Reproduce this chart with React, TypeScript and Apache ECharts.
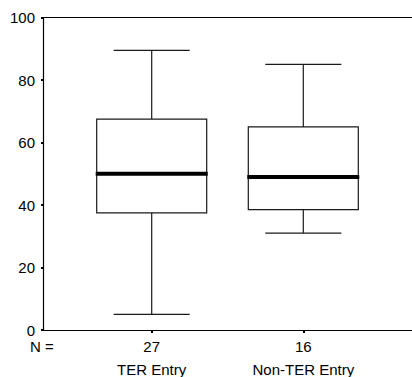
import React, { useEffect, useRef } from "react";
import * as echarts from "echarts";

const categories = ["TER Entry", "Non-TER Entry"];
const counts = ["27", "16"];
const positions = [1, 2];
const mins = [5, 31];
const q1s = [37.5, 38.5];
const medians = [50, 49];
const q3s = [67.5, 65];
const maxs = [89.5, 85];
const yTicks = [0, 20, 40, 60, 80, 100];

const FONT = "'Liberation Sans', Arial, sans-serif";

export default function App() {
  const ref = useRef<HTMLDivElement>(null);
  useEffect(() => {
    if (!ref.current) return;
    const chart = echarts.init(ref.current, null, { renderer: "svg" });
    const data = positions.map((p, i) => [p, mins[i], q1s[i], medians[i], q3s[i], maxs[i]]);
    const stroke = "#1a1a1a";
    chart.setOption({
      animation: false,
      textStyle: { fontFamily: FONT },
      grid: { left: 43, right: 0, top: 17.5, bottom: 47, containLabel: false },
      xAxis: [
        {
          type: "value",
          min: 0.283,
          max: 2.717,
          position: "bottom",
          splitLine: { show: false },
          axisLine: { show: true, lineStyle: { color: "#000", width: 1.2 } },
          axisTick: { show: true, customValues: positions, length: 3, lineStyle: { color: "#000", width: 2 } },
          axisLabel: {
            show: true,
            customValues: positions,
            margin: 5,
            formatter: (v: number) => {
              const i = positions.indexOf(Math.round(v));
              if (i < 0) return "";
              return `{n|${counts[i]}}\n{c|${categories[i]}}`;
            },
            rich: {
              n: { fontSize: 15, lineHeight: 23, color: "#000", fontFamily: FONT },
              c: { fontSize: 15, lineHeight: 23, color: "#000", fontFamily: FONT },
            },
          },
        },
        {
          type: "value",
          min: 0.283,
          max: 2.717,
          position: "top",
          splitLine: { show: false },
          axisLine: { show: true, lineStyle: { color: "#000", width: 1.2 } },
          axisTick: { show: false },
          axisLabel: { show: false },
        },
      ],
      yAxis: {
        type: "value",
        min: 0,
        max: 100,
        interval: 20,
        splitLine: { show: false },
        axisLine: { show: true, lineStyle: { color: "#000", width: 1.2 } },
        axisTick: { show: true, length: 2, lineStyle: { color: "#000", width: 2 } },
        axisLabel: {
          margin: 8,
          fontSize: 15,
          color: "#000",
          fontFamily: FONT,
          formatter: (v: number) => (yTicks.includes(v) ? String(v) : ""),
        },
      },
      graphic: [
        {
          type: "text",
          left: 30,
          top: 339,
          style: { text: "N =", fontSize: 15, fill: "#000", fontFamily: FONT },
        },
      ],
      series: [
        {
          type: "custom",
          xAxisIndex: 0,
          yAxisIndex: 0,
          data,
          renderItem: (params: any, api: any) => {
            const x = api.value(0);
            const pMin = api.coord([x, api.value(1)]);
            const pQ1 = api.coord([x, api.value(2)]);
            const pMed = api.coord([x, api.value(3)]);
            const pQ3 = api.coord([x, api.value(4)]);
            const pMax = api.coord([x, api.value(5)]);
            const cx = pMin[0];
            const half = 55;
            const cap = 38;
            const ls = { stroke, lineWidth: 1.2 };
            return {
              type: "group",
              children: [
                { type: "line", shape: { x1: cx, y1: pMax[1], x2: cx, y2: pQ3[1] }, style: ls },
                { type: "line", shape: { x1: cx, y1: pQ1[1], x2: cx, y2: pMin[1] }, style: ls },
                { type: "line", shape: { x1: cx - cap, y1: pMax[1], x2: cx + cap, y2: pMax[1] }, style: ls },
                { type: "line", shape: { x1: cx - cap, y1: pMin[1], x2: cx + cap, y2: pMin[1] }, style: ls },
                {
                  type: "rect",
                  shape: { x: cx - half, y: pQ3[1], width: 2 * half, height: pQ1[1] - pQ3[1] },
                  style: { fill: "#fff", stroke, lineWidth: 1.2 },
                },
                {
                  type: "line",
                  shape: { x1: cx - half - 1, y1: pMed[1], x2: cx + half + 1, y2: pMed[1] },
                  style: { stroke: "#000", lineWidth: 4 },
                },
              ],
            };
          },
        },
      ],
    });
    return () => chart.dispose();
  }, []);
  return (
    <div
      ref={ref}
      style={{ position: "fixed", left: 0, top: 0, width: 412, height: 377, background: "#fff" }}
    />
  );
}
